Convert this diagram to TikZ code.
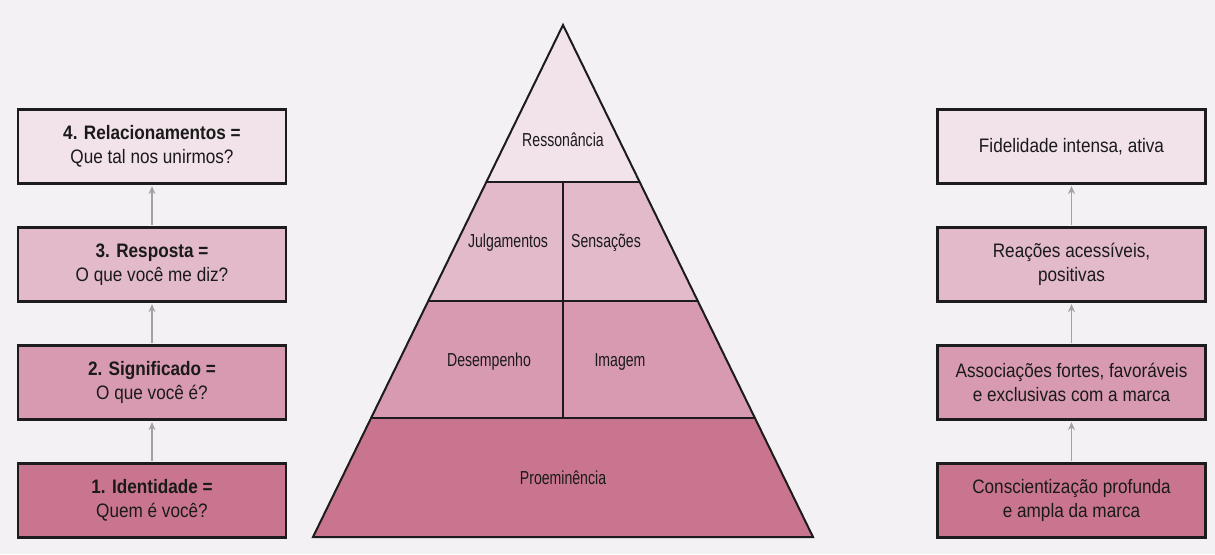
\documentclass[tikz,border=0pt]{standalone}
\usepackage{fontspec}
\setmainfont{Liberation Sans}[FakeStretch=0.88]
\newfontfamily\pyrfont{Liberation Sans}[FakeStretch=0.75]
\usetikzlibrary{arrows.meta}
\definecolor{bg}{HTML}{F3F1F3}
\definecolor{cfour}{HTML}{F2E2EA}
\definecolor{cthree}{HTML}{E2BACA}
\definecolor{ctwo}{HTML}{D89AB0}
\definecolor{cone}{HTML}{C9758F}
\definecolor{txt}{HTML}{1A1A1A}
\definecolor{arrowgray}{HTML}{A3A1A3}
\definecolor{edge}{HTML}{1C1C1C}
\begin{document}
\begin{tikzpicture}[x=1pt,y=-1pt,
  box/.style={draw=edge, line width=2.2pt, minimum width=268pt, minimum height=74pt,
    align=center, inner sep=0pt, font=\fontsize{19.5}{24}\selectfont, text=txt},
  lbl/.style={font=\pyrfont\fontsize{18.8}{22}\selectfont, text=txt, inner sep=0pt},
  up/.style={draw=arrowgray, line width=1.8pt, -{Stealth[length=8pt,width=7pt]}, shorten >=1.5pt, shorten <=1pt},
  lvl/.style={draw=edge, line width=2pt, line join=miter}]
\useasboundingbox (0,0) rectangle (1215,554);
\fill[bg] (0,0) rectangle (1215,554);

% pyramid fills
\fill[cfour] (563,25) -- (640,182) -- (486,182) -- cycle;
\fill[cthree] (486,182) -- (640,182) -- (698,301) -- (428,301) -- cycle;
\fill[ctwo] (428,301) -- (698,301) -- (755,418) -- (371,418) -- cycle;
\fill[cone] (371,418) -- (755,418) -- (813,537) -- (313,537) -- cycle;
% pyramid outline
\draw[lvl] (563,25) -- (813,537) -- (313,537) -- cycle;
\draw[lvl] (486,182) -- (640,182);
\draw[lvl] (428,301) -- (698,301);
\draw[lvl] (371,418) -- (755,418);
\draw[lvl] (563,182) -- (563,418);

% pyramid labels
\node[lbl] (res) at (563,140) {Ressonância};
\node[lbl] (jul) at (508,243) {Julgamentos};
\node[lbl] (sen) at (606,243) {Sensações};
\node[lbl] (des) at (489,362) {Desempenho};
\node[lbl] (ima) at (620,362) {Imagem};
\node[lbl] (pro) at (563,478) {Proeminência};

% left boxes
\node[box, fill=cfour]  (l4) at (152,146.5) {\textbf{4. Relacionamentos =}\\Que tal nos unirmos?};
\node[box, fill=cthree] (l3) at (152,264.5) {\textbf{3. Resposta =}\\O que você me diz?};
\node[box, fill=ctwo]   (l2) at (152,382.5) {\textbf{2. Significado =}\\O que você é?};
\node[box, fill=cone]   (l1) at (152,500.5) {\textbf{1. Identidade =}\\Quem é você?};

% right boxes
\node[box, fill=cfour]  (r4) at (1071.5,146.5) {Fidelidade intensa, ativa};
\node[box, fill=cthree] (r3) at (1071.5,264.5) {Reações acessíveis,\\positivas};
\node[box, fill=ctwo]   (r2) at (1071.5,382.5) {Associações fortes, favoráveis\\e exclusivas com a marca};
\node[box, fill=cone]   (r1) at (1071.5,500.5) {Conscientização profunda\\e ampla da marca};

% arrows
\draw[up] (l1.north) -- (l2.south);
\draw[up] (l2.north) -- (l3.south);
\draw[up] (l3.north) -- (l4.south);
\draw[up] (r1.north) -- (r2.south);
\draw[up] (r2.north) -- (r3.south);
\draw[up] (r3.north) -- (r4.south);
\end{tikzpicture}
\end{document}
